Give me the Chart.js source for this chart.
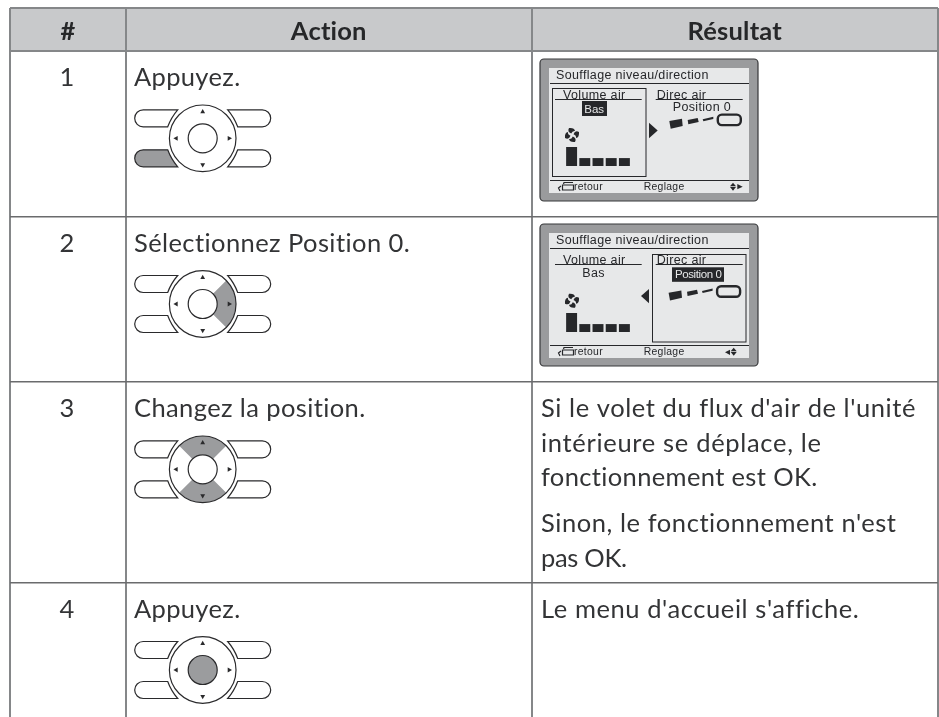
<!DOCTYPE html>
<html lang="fr">
<head>
<meta charset="utf-8">
<title>Soufflage niveau/direction</title>
<script src="https://cdn.jsdelivr.net/npm/chart.js@4"></script>
<style>
html, body { margin: 0; padding: 0; background: #fff; }
#wrap { position: relative; width: 939px; height: 717px; overflow: hidden; }
#tableChart { position: absolute; left: 0; top: 0; }
.fan { position: absolute; width: 66px; height: 19px; }
</style>
</head>
<body>
<div id="wrap">
  <canvas id="tableChart" width="939" height="717"></canvas>
  <canvas id="fan1" class="fan" width="66" height="19"></canvas>
  <canvas id="fan2" class="fan" width="66" height="19"></canvas>
</div>
<script>
// table content
const headers = ['#', 'Action', 'Résultat'];
const stepNumbers = ['1', '2', '3', '4'];
const actions = ['Appuyez.', 'Sélectionnez Position 0.', 'Changez la position.', 'Appuyez.'];
const results3 = ["Si le volet du flux d'air de l'unité", 'intérieure se déplace, le', 'fonctionnement est OK.', "Sinon, le fonctionnement n'est", 'pas OK.'];
const result4 = "Le menu d'accueil s'affiche.";

// grid lines of the table, in page pixels
const columnEdges = [10, 126, 531.5, 938];
const rowEdges = [8, 51, 216.5, 381.5, 582.5];

// fan level shown on the two screens
const fanLevels = [2.4, 1, 1, 1, 1];
const fanLabels = ['L1', 'L2', 'L3', 'L4', 'L5'];

const INK = '#333436';
const BODY_FONT = '25.5px Lato';
const SCREEN_INK = '#26272a';
const SCREEN_BG = '#e7e8e9';

// which part of the remote is pressed in each row
const pressed = ['bottomLeft', 'right', 'upDown', 'center'];
const remoteCenters = [138.3, 304, 469.3, 670];
const result3Baselines = [417, 452, 486, 532, 567];

// where the lines of text end, the original face is not installed
const actionEnds = [240.5, 411, 366, 240.5];
const result3Ends = [916, 821.7, 818, 897, 626.7];
const result4End = 858;

function fitText(ctx, text, x, y, end) {
    ctx.letterSpacing = '0px';
    const gap = (end - x - ctx.measureText(text).width) / text.length;
    ctx.letterSpacing = gap + 'px';
    ctx.fillText(text, x, y);
}

function drawRemote(ctx, cx, cy, part) {
    const grey = '#9b9c9e';
    ctx.save();
    ctx.lineWidth = 1.2;
    ctx.strokeStyle = '#2a2a2c';

    // the four side buttons, they wrap around the ring
    [[-1, -1], [1, -1], [-1, 1], [1, 1]].forEach(([sx, sy]) => {
        const yMid = cy + sy * 20;
        const topInner = sy < 0 ? 25 : 35;
        const bottomInner = sy < 0 ? 35 : 25;
        ctx.beginPath();
        ctx.moveTo(cx + sx * topInner, yMid - 8.5);
        ctx.lineTo(cx + sx * 59.5, yMid - 8.5);
        ctx.arc(cx + sx * 59.5, yMid, 8.5, -Math.PI / 2, Math.PI / 2, sx < 0);
        ctx.lineTo(cx + sx * bottomInner, yMid + 8.5);
        ctx.quadraticCurveTo(cx + sx * 31.5, yMid + (sy < 0 ? -1 : 1), cx + sx * topInner, yMid - 8.5);
        ctx.closePath();
        if (part === 'bottomLeft' && sx < 0 && sy > 0) {
            ctx.fillStyle = grey;
            ctx.fill();
        }
        ctx.stroke();
    });

    // pressed quarter of the ring
    const wedge = (mid) => {
        ctx.beginPath();
        ctx.arc(cx, cy, 33.3, mid - Math.PI / 4, mid + Math.PI / 4);
        ctx.arc(cx, cy, 14.5, mid + Math.PI / 4, mid - Math.PI / 4, true);
        ctx.closePath();
        ctx.fillStyle = grey;
        ctx.fill();
    };
    if (part === 'right') wedge(0);
    if (part === 'upDown') { wedge(-Math.PI / 2); wedge(Math.PI / 2); }

    ctx.beginPath();
    ctx.arc(cx, cy, 33.3, 0, Math.PI * 2);
    ctx.stroke();

    ctx.beginPath();
    ctx.arc(cx, cy, 14.5, 0, Math.PI * 2);
    ctx.fillStyle = part === 'center' ? grey : '#fff';
    ctx.fill();
    ctx.stroke();

    // small arrows
    ctx.fillStyle = '#2a2a2c';
    [0, 1, 2, 3].forEach(i => {
        ctx.save();
        ctx.translate(cx, cy);
        ctx.rotate(i * Math.PI / 2);
        ctx.beginPath();
        ctx.moveTo(-2.4, -25);
        ctx.lineTo(2.4, -25);
        ctx.lineTo(0, -29.3);
        ctx.closePath();
        ctx.fill();
        ctx.restore();
    });
    ctx.restore();
}

function drawFanIcon(ctx, x, y) {
    ctx.save();
    ctx.translate(x, y);
    ctx.fillStyle = SCREEN_INK;
    for (let i = 0; i < 4; i++) {
        ctx.rotate(Math.PI / 2);
        ctx.beginPath();
        ctx.moveTo(-0.8, -1.5);
        ctx.quadraticCurveTo(-5, -3, -3, -7);
        ctx.quadraticCurveTo(2.5, -7.5, 3, -4);
        ctx.quadraticCurveTo(0.5, -4.5, -0.8, -1.5);
        ctx.closePath();
        ctx.fill();
    }
    ctx.restore();
}

function tri(ctx, a, b, c) {
    ctx.beginPath();
    ctx.moveTo(a[0], a[1]);
    ctx.lineTo(b[0], b[1]);
    ctx.lineTo(c[0], c[1]);
    ctx.closePath();
    ctx.fill();
}

function poly(ctx, x, y, pts) {
    ctx.beginPath();
    pts.forEach((p, i) => {
        if (i === 0) ctx.moveTo(x + p[0], y + p[1]);
        else ctx.lineTo(x + p[0], y + p[1]);
    });
    ctx.closePath();
    ctx.fill();
}

function drawScreen(ctx, x, y, active) {
    const volume = active === 'volume';
    ctx.save();
    // casing
    ctx.fillStyle = '#9a9b9d';
    ctx.strokeStyle = '#37383a';
    ctx.lineWidth = 1.2;
    ctx.beginPath();
    ctx.roundRect(x, y, 218, 142, 4);
    ctx.fill();
    ctx.stroke();
    // display
    ctx.fillStyle = SCREEN_BG;
    ctx.fillRect(x + 9, y + 9, 200, 125);

    ctx.fillStyle = SCREEN_INK;
    ctx.strokeStyle = SCREEN_INK;
    ctx.textBaseline = 'alphabetic';
    ctx.font = '12.5px "Liberation Sans"';
    ctx.letterSpacing = '0.35px';
    ctx.fillText('Soufflage niveau/direction', x + 16, y + 19.5);
    ctx.fillText('Volume air', x + 23, y + 39.5);
    ctx.fillText('Direc air', x + 116.7, y + 39.5);

    ctx.lineWidth = 1;
    ctx.beginPath();
    ctx.moveTo(x + 10, y + 24.5); ctx.lineTo(x + 209, y + 24.5);
    ctx.moveTo(x + 15, y + 40.5); ctx.lineTo(x + 101.7, y + 40.5);
    ctx.moveTo(x + 115.7, y + 40.5); ctx.lineTo(x + 202.7, y + 40.5);
    ctx.moveTo(x + 10, y + 121.5); ctx.lineTo(x + 209, y + 121.5);
    ctx.stroke();

    // selection frame
    if (volume) ctx.strokeRect(x + 12.5, y + 29.5, 93.5, 88);
    else ctx.strokeRect(x + 112.5, y + 30.5, 93.5, 87.5);

    // value labels
    if (volume) {
        ctx.fillRect(x + 42, y + 42, 25, 15);
        ctx.fillText('Position 0', x + 132.7, y + 52);
        ctx.fillStyle = SCREEN_BG;
        ctx.font = '11.5px "Liberation Sans"';
        ctx.letterSpacing = '0px';
        ctx.fillText('Bas', x + 44.3, y + 53.5);
    } else {
        ctx.fillText('Bas', x + 42.3, y + 52.7);
        ctx.fillRect(x + 132, y + 43.3, 52, 14.5);
        ctx.fillStyle = SCREEN_BG;
        ctx.font = '11.5px "Liberation Sans"';
        ctx.letterSpacing = '-0.4px';
        ctx.fillText('Position 0', x + 135, y + 53.5);
    }
    ctx.fillStyle = SCREEN_INK;
    ctx.letterSpacing = '0px';

    drawFanIcon(ctx, x + 32, y + (volume ? 76 : 76.7));

    // arrow between both parts
    if (volume) tri(ctx, [x + 109, y + 63.7], [x + 117.7, y + 71.5], [x + 109, y + 79.3]);
    else tri(ctx, [x + 109, y + 65], [x + 101, y + 72], [x + 109, y + 79.3]);

    // air flow
    const fx = x + (volume ? 0 : -0.7);
    const fy = y + (volume ? 0 : 6.7);
    poly(ctx, fx, fy, [[129.3, 62], [142, 59.7], [142.7, 67], [130.7, 69.7]]);
    poly(ctx, fx, fy, [[147.7, 61], [157.7, 59], [158.7, 63], [148.3, 65.3]]);
    poly(ctx, fx, fy, [[162.7, 60.3], [173.3, 57.7], [173.3, 60], [163.3, 62.3]]);
    ctx.lineWidth = 2.4;
    ctx.beginPath();
    ctx.roundRect(fx + 177.8, fy + 55.6, 23, 10.5, 4);
    ctx.stroke();

    // bottom bar
    ctx.font = '10.4px "Liberation Sans"';
    ctx.letterSpacing = '0.3px';
    ctx.fillText('retour', x + 34, y + 131);
    ctx.fillText('Reglage', x + 103.7, y + 131);
    ctx.letterSpacing = '0px';

    ctx.lineWidth = 1.2;
    ctx.beginPath();
    ctx.rect(x + 22.5, y + 126, 11, 5);
    ctx.moveTo(x + 23.5, y + 125); ctx.lineTo(x + 24, y + 123.5); ctx.lineTo(x + 33, y + 123.5);
    ctx.moveTo(x + 21, y + 127); ctx.lineTo(x + 18.5, y + 129); ctx.lineTo(x + 20, y + 132);
    ctx.stroke();

    const ax = x + (volume ? 193 : 193.7);
    tri(ctx, [ax - 3, y + 127.3], [ax, y + 123.7], [ax + 3, y + 127.3]);
    tri(ctx, [ax - 3, y + 128], [ax, y + 131.7], [ax + 3, y + 128]);
    if (volume) tri(ctx, [x + 197.3, y + 125], [x + 202.7, y + 127.7], [x + 197.3, y + 130.3]);
    else tri(ctx, [x + 190, y + 125.7], [x + 185, y + 128.2], [x + 190, y + 131]);
    ctx.restore();
}

// everything of the table that is not a plain axis line
const tablePlugin = {
    id: 'tableCells',
    beforeDraw(chart) {
        const { ctx, scales: { x, y } } = chart;
        ctx.save();
        // header band
        ctx.fillStyle = '#c8c9cb';
        ctx.fillRect(x.getPixelForValue(columnEdges[0]), y.getPixelForValue(rowEdges[0]),
            x.getPixelForValue(columnEdges[3]) - x.getPixelForValue(columnEdges[0]),
            y.getPixelForValue(rowEdges[1]) - y.getPixelForValue(rowEdges[0]));
        ctx.restore();
    },
    afterDatasetsDraw(chart) {
        const { ctx } = chart;
        ctx.save();
        ctx.textBaseline = 'alphabetic';
        ctx.letterSpacing = '0.2px';
        ctx.fillStyle = '#262729';
        ctx.font = 'bold 25.5px Lato';
        ctx.textAlign = 'center';
        headers.forEach((h, i) => {
            ctx.fillText(h, (columnEdges[i] + columnEdges[i + 1]) / 2, 40);
        });
        ctx.fillStyle = INK;
        ctx.font = BODY_FONT;
        stepNumbers.forEach((n, i) => {
            ctx.fillText(n, 67, rowEdges[i + 1] + 35);
        });
        ctx.textAlign = 'left';
        actions.forEach((a, i) => {
            fitText(ctx, a, 134, rowEdges[i + 1] + 35, actionEnds[i]);
        });
        result3Baselines.forEach((yy, i) => {
            fitText(ctx, results3[i], 541, yy, result3Ends[i]);
        });
        fitText(ctx, result4, 541, 618, result4End);
        ctx.restore();

        remoteCenters.forEach((cy, i) => drawRemote(ctx, 202.7, cy, pressed[i]));
        drawScreen(ctx, 540, 59, 'volume');
        drawScreen(ctx, 540, 224, 'direction');
    }
};

new Chart(document.getElementById('tableChart'), {
    type: 'scatter',
    data: { datasets: [{ data: [], pointRadius: 0 }] },
    options: {
        responsive: false,
        animation: false,
        layout: { padding: { left: columnEdges[0], right: 939 - columnEdges[3], top: rowEdges[0], bottom: 0 } },
        plugins: { legend: { display: false }, tooltip: { enabled: false } },
        scales: {
            x: {
                type: 'linear', min: columnEdges[0], max: columnEdges[3], position: 'top',
                afterBuildTicks: axis => { axis.ticks = columnEdges.map(value => ({ value })); },
                ticks: { display: false },
                border: { display: false },
                grid: { color: '#858789', lineWidth: 2, drawTicks: false }
            },
            y: {
                type: 'linear', min: rowEdges[0], max: 717, reverse: true,
                afterBuildTicks: axis => { axis.ticks = rowEdges.map(value => ({ value })); },
                ticks: { display: false },
                border: { display: false },
                grid: {
                    color: ctx => ctx.index < 2 ? '#858789' : '#6a6b6d',
                    lineWidth: ctx => ctx.index < 2 ? 2 : 1.5,
                    drawTicks: false
                }
            }
        }
    },
    plugins: [tablePlugin]
});

// the level bars of each screen
[['fan1', 564.6, 147], ['fan2', 564.6, 313]].forEach(([id, left, top]) => {
    const el = document.getElementById(id);
    el.style.left = left + 'px';
    el.style.top = top + 'px';
    new Chart(el, {
        type: 'bar',
        data: {
            labels: fanLabels,
            datasets: [{ data: fanLevels, backgroundColor: SCREEN_INK, categoryPercentage: 0.83, barPercentage: 1 }]
        },
        options: {
            responsive: false,
            animation: false,
            layout: { padding: 0 },
            plugins: { legend: { display: false }, tooltip: { enabled: false } },
            scales: {
                x: { display: false },
                y: { display: false, min: 0, max: 2.4 }
            }
        }
    });
});
</script>
</body>
</html>
